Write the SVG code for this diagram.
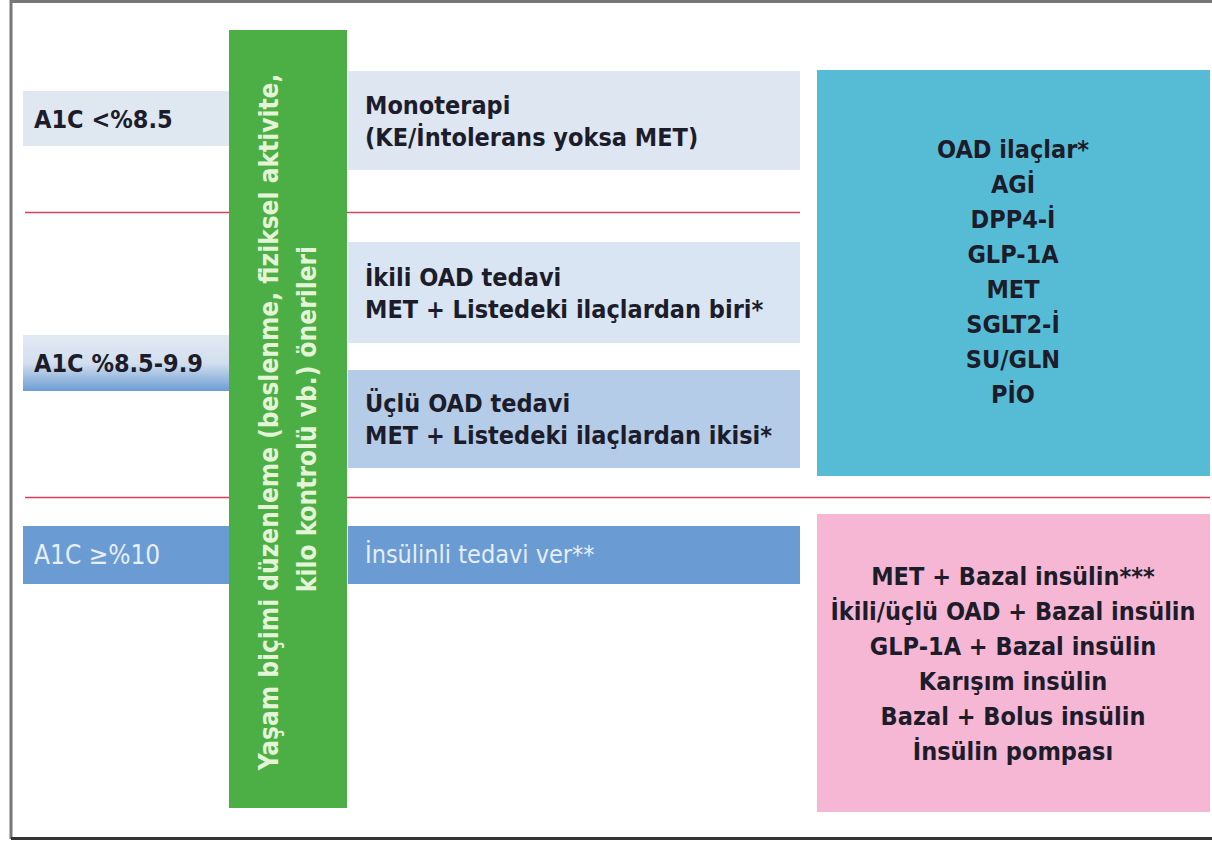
<svg xmlns="http://www.w3.org/2000/svg" width="1212" height="841" viewBox="0 0 1212 841">
<style>
.t{font-family:"DejaVu Sans Condensed","DejaVu Sans",sans-serif;font-weight:bold;font-size:25px;fill:#1c1c2a}
.c{text-anchor:middle}
.w{fill:#e6eef8}
.v{font-family:"DejaVu Sans Condensed","DejaVu Sans",sans-serif;font-weight:bold;font-size:26px;fill:#e4f4d6;text-anchor:middle}
.red{stroke:#d8405a;stroke-width:1.5;fill:none}
</style>
<defs>
<linearGradient id="g1" x1="0" y1="0" x2="0" y2="1">
<stop offset="0" stop-color="#e1e9f3"/>
<stop offset="0.5" stop-color="#d3dfee"/>
<stop offset="1" stop-color="#6d9dd3"/>
</linearGradient>
</defs>
<rect x="0" y="0" width="1212" height="841" fill="#ffffff"/>
<g id="frame">
<path d="M11,839 V1.5 H1212" fill="none" stroke="#777" stroke-width="3"/>
<path d="M11,838.5 H1212" fill="none" stroke="#333" stroke-width="3"/>
</g>
<g id="connectors">
<line class="red" x1="25" y1="212.5" x2="800" y2="212.5"/>
<line class="red" x1="25" y1="497.5" x2="1210" y2="497.5"/>
</g>
<g id="a1c-low">
<rect x="23" y="91" width="206" height="55" fill="#dfe7f1"/>
<text class="t" x="34" y="128">A1C &lt;%8.5</text>
</g>
<g id="a1c-mid">
<rect x="23" y="335" width="206" height="56" fill="url(#g1)"/>
<text class="t" x="34" y="372">A1C %8.5-9.9</text>
</g>
<g id="a1c-high">
<rect x="23" y="526" width="206" height="58" fill="#6a9bd2"/>
<text class="t w" x="34" y="564" style="font-weight:normal;font-size:26px">A1C ≥%10</text>
</g>
<g id="lifestyle">
<rect x="229" y="30" width="118" height="778" fill="#4caf45"/>
<text class="v" transform="translate(278,422) rotate(-90)">Yaşam biçimi düzenleme (beslenme, fiziksel aktivite,</text>
<text class="v" transform="translate(316,419) rotate(-90)">kilo kontrolü vb.) önerileri</text>
</g>
<g id="mono">
<rect x="348" y="71" width="452" height="99" fill="#dde6f1"/>
<text class="t" x="365" y="114">Monoterapi</text>
<text class="t" x="365" y="146">(KE/İntolerans yoksa MET)</text>
</g>
<g id="ikili">
<rect x="348" y="242" width="452" height="101" fill="#d9e5f2"/>
<text class="t" x="365" y="286">İkili OAD tedavi</text>
<text class="t" x="365" y="318">MET + Listedeki ilaçlardan biri*</text>
</g>
<g id="uclu">
<rect x="348" y="370" width="452" height="98" fill="#b5cce8"/>
<text class="t" x="365" y="412">Üçlü OAD tedavi</text>
<text class="t" x="365" y="444">MET + Listedeki ilaçlardan ikisi*</text>
</g>
<g id="insulinli">
<rect x="348" y="526" width="452" height="58" fill="#6a9bd2"/>
<text class="t w" x="365" y="563" style="font-weight:normal">İnsülinli tedavi ver**</text>
</g>
<g id="oad">
<rect x="817" y="70" width="393" height="406" fill="#56bcd6"/>
<text class="t c" x="1013" y="158">OAD ilaçlar*</text>
<text class="t c" x="1013" y="193">AGİ</text>
<text class="t c" x="1013" y="228">DPP4-İ</text>
<text class="t c" x="1013" y="263">GLP-1A</text>
<text class="t c" x="1013" y="298">MET</text>
<text class="t c" x="1013" y="333">SGLT2-İ</text>
<text class="t c" x="1013" y="368">SU/GLN</text>
<text class="t c" x="1013" y="403">PİO</text>
</g>
<g id="insulin">
<rect x="817" y="514" width="393" height="298" fill="#f5b7d3"/>
<text class="t c" x="1013" y="585">MET + Bazal insülin***</text>
<text class="t c" x="1013" y="620">İkili/üçlü OAD + Bazal insülin</text>
<text class="t c" x="1013" y="655">GLP-1A + Bazal insülin</text>
<text class="t c" x="1013" y="690">Karışım insülin</text>
<text class="t c" x="1013" y="725">Bazal + Bolus insülin</text>
<text class="t c" x="1013" y="760">İnsülin pompası</text>
</g>
</svg>
